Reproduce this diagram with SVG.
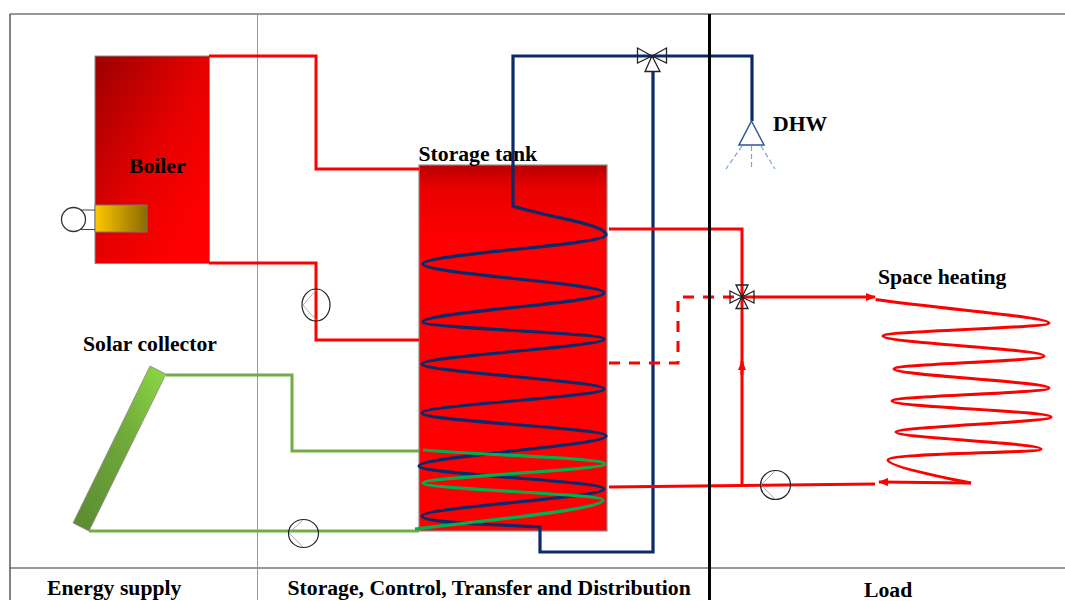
<svg xmlns="http://www.w3.org/2000/svg" width="1065" height="601" viewBox="0 0 1065 601">
<style>
text{font-family:"Liberation Serif","Times New Roman",serif;font-weight:bold;font-size:21.7px;fill:#000}
.red{fill:none;stroke:#f00;stroke-width:3}
.blue{fill:none;stroke:#0b2a6b;stroke-width:3.2}
.grn{fill:none;stroke:#70ad47;stroke-width:3}
.coilg{fill:none;stroke:#00b050;stroke-width:3.2}
.valve{fill:none;stroke:#222;stroke-width:1.3}
.pump{fill:none;stroke:#222;stroke-width:1.2}
.v{fill:none;stroke:#999;stroke-width:.8}
.frame{fill:none;stroke:#333;stroke-width:1.2}
</style>
<defs>
<linearGradient id="gb" x1="0" y1="0" x2="1" y2="1"><stop offset="0" stop-color="#9c0000"/><stop offset=".5" stop-color="#e60000"/><stop offset=".85" stop-color="#f00"/></linearGradient>
<linearGradient id="gy" x1="0" y1="0" x2="1" y2="0"><stop offset="0" stop-color="#ffc800"/><stop offset="1" stop-color="#8a6a00"/></linearGradient>
<linearGradient id="gt" x1="0" y1="0" x2="0" y2="1"><stop offset="0" stop-color="#b80000"/><stop offset=".06" stop-color="#e80000"/><stop offset=".2" stop-color="#f00"/></linearGradient>
<linearGradient id="gs2" x1="0" y1="1" x2="1" y2="0"><stop offset="0" stop-color="#5a8a30"/><stop offset=".55" stop-color="#6fa83a"/><stop offset="1" stop-color="#8ed843"/></linearGradient>
<marker id="ah" markerWidth="10" markerHeight="8" refX="9" refY="4" orient="auto" markerUnits="userSpaceOnUse"><path d="M0,0L10,4L0,8z" fill="#f00"/></marker>
</defs>
<g id="frame">
<path class="frame" d="M10,14H1065M10,14V600M10,568H1065"/>
<path d="M257.500,14V600" fill="none" stroke="#999" stroke-width="1"/>
</g>
<g id="boiler">
<rect x="95" y="56" width="114.500" height="207.500" fill="url(#gb)" stroke="#8c8c8c" stroke-width="1"/>
<rect x="95" y="205" width="52" height="27" fill="url(#gy)" stroke="#777" stroke-width="1"/>
<path d="M75,210H95M75,229.500H95" fill="none" stroke="#444" stroke-width="1"/>
<circle cx="73.500" cy="219.500" r="12" fill="#fff" stroke="#333" stroke-width="1.300"/>
<text x="129" y="173">Boiler</text>
</g>
<g id="solar-collector">
<polygon points="150,366 166,374 89,531 73,523" fill="url(#gs2)" stroke="#8a8a8a" stroke-width=".8"/>
<text x="83" y="351">Solar collector</text>
</g>
<g id="storage-tank">
<rect x="419" y="165" width="188" height="366" fill="url(#gt)" stroke="#8c8c8c" stroke-width="1.200"/>
<text x="418.500" y="161">Storage tank</text>
</g>
<g id="connectors">
<path class="red" d="M209,56H316V169H419"/>
<path class="red" d="M209,263H316V340H419"/>
<path class="grn" d="M166,375H292V451H419"/>
<path class="grn" d="M89,531H419"/>
<path class="blue" d="M652,56H513V206C550,218 606,224 606,235C606,245 423,254 423,264C423,274 604,283 604,293C604,303 423,312 423,322C423,328 604,333 604,339C604,347 422,356 422,364C422,372 604,381 604,389C604,397 422,405 422,413C422,421 606,428 606,436C606,446 419,456 419,466C419,474 604,481 604,489C604,498 422,507 422,516C422,523 490,524 540,527V552H653V71"/>
<path class="blue" d="M652,56H752V121"/>
<path class="coilg" d="M423,450C480,455 605,458 605,464C605,470 423,477 423,483C423,489 603,494 603,500C603,510 470,522 415,529"/>
<path class="red" d="M609,229H742V485"/>
<path class="red" stroke-dasharray="11 9" d="M609,363H678V297H735"/>
<path class="red" marker-end="url(#ah)" d="M742,297H875"/>
<path class="red" d="M609,487L875,484"/>
<path class="red" marker-end="url(#ah)" d="M742,375V361"/>
<path class="red" d="M875.500,299.500C950,310 1049,317 1049,323C1049,328 883,331 883,336C883,343 1044,349 1044,356C1044,361 894,364 894,369C894,375 1049,382 1049,388C1049,393 892,396 892,401C892,407 1051,411 1051,417C1051,422 896,427 896,432C896,438 1041,443 1041,449C1041,453 888,453 888,460C888,466 935,476 971,483"/>
<path class="red" marker-end="url(#ah)" d="M971,483L879,482"/>
</g>
<g id="pump-boiler">
<ellipse class="pump" cx="316" cy="305" rx="14" ry="16"/>
<path class="v" d="M303,305L316,290M303,305L316,320"/>
</g>
<g id="pump-solar">
<ellipse class="pump" cx="303.500" cy="533.500" rx="15" ry="14"/>
<path class="v" d="M289,533L303,520M289,533L303,547"/>
</g>
<g id="pump-load">
<ellipse class="pump" cx="775.500" cy="485" rx="15" ry="14.500"/>
<path class="v" d="M761,485L775,471M761,485L775,499"/>
</g>
<g id="valve-dhw">
<path class="valve" d="M652,56L637.500,48V63zM652,56L666.500,48V63zM652,56L645,71.500H660z"/>
</g>
<g id="valve-mix">
<path class="valve" d="M742,297L736,285H748zM742,297L736,308.500H748zM742,297L730,291V303zM742,297L754,291V303z"/>
</g>
<g id="dhw">
<path d="M751.500,121L739,145H764z" fill="#fff" stroke="#2f5597" stroke-width="1.500"/>
<path d="M742,146L726,169M751.500,146V169M761,146L775,169" fill="none" stroke="#7ea3dc" stroke-width="1.200" stroke-dasharray="5 3"/>
<text x="773" y="131">DHW</text>
</g>
<g id="space-heating"><text x="878" y="284">Space heating</text></g>
<g id="labels">
<text x="47" y="595">Energy supply</text>
<text x="287.500" y="595">Storage, Control, Transfer and Distribution</text>
<text x="864" y="597">Load</text>
</g>
<g id="divider"><path d="M709.500,14V600" fill="none" stroke="#000" stroke-width="3"/></g>
</svg>
